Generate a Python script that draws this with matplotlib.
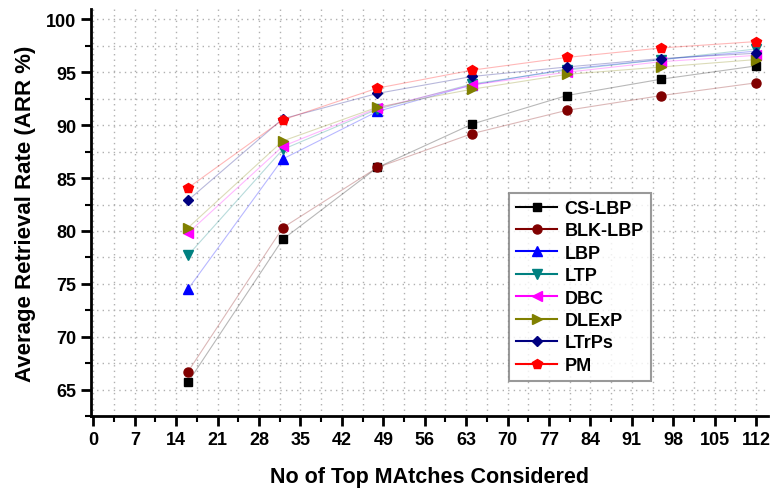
import matplotlib
matplotlib.use("Agg")
import matplotlib.pyplot as plt
from matplotlib.lines import Line2D
from matplotlib.ticker import MultipleLocator

plt.rcParams['font.family'] = ['Liberation Sans', 'DejaVu Sans']
plt.rcParams['font.weight'] = 'bold'

x = [16, 32, 48, 64, 80, 96, 112]
names = ['CS-LBP', 'BLK-LBP', 'LBP', 'LTP', 'DBC', 'DLExP', 'LTrPs', 'PM']
cs_lbp = [65.7, 79.2, 86.0, 90.1, 92.8, 94.35, 95.6]
blk_lbp = [66.7, 80.3, 86.0, 89.2, 91.4, 92.8, 94.0]
lbp = [74.5, 86.8, 91.3, 93.8, 95.3, 96.2, 97.0]
ltp = [77.7, 87.7, 91.5, 93.9, 95.2, 96.2, 97.2]
dbc = [79.8, 88.0, 91.6, 93.8, 95.0, 96.0, 96.6]
dlexp = [80.3, 88.5, 91.7, 93.4, 94.8, 95.5, 96.2]
ltrps = [82.9, 90.6, 93.0, 94.6, 95.5, 96.3, 96.8]
pm = [84.07, 90.5, 93.5, 95.2, 96.4, 97.3, 97.9]
series = [cs_lbp, blk_lbp, lbp, ltp, dbc, dlexp, ltrps, pm]
colors = ['#000000', '#800000', '#0000ff', '#008080', '#ff00ff', '#808000', '#000080', '#ff0000']
markers = ['s', 'o', '^', 'v', '<', '>', 'D', 'p']
msizes = [6, 6.5, 7, 7, 7, 7, 5.5, 7]
xticks = list(range(0, 113, 7))
yticks = [65, 70, 75, 80, 85, 90, 95, 100]

fig = plt.figure(figsize=(7.71, 4.89), dpi=100)
ax = fig.add_axes([0.118, 0.147, 0.878, 0.833])

handles = []
for s, c, m, ms, n in zip(series, colors, markers, msizes, names):
    ax.plot(x, s, color=c, lw=0.8, alpha=0.28, zorder=2)
    ax.plot(x, s, linestyle='none', marker=m, markersize=ms, color=c, zorder=3)
    handles.append(Line2D([], [], color=c, lw=1.5, marker=m, markersize=ms, label=n))

ax.set_xlim(-0.4, 114)
ax.set_ylim(62.5, 101)
ax.set_xticks(xticks)
ax.set_yticks(yticks)
ax.xaxis.set_minor_locator(MultipleLocator(3.5))
ax.yaxis.set_minor_locator(MultipleLocator(2.5))
ax.grid(True, which='both', color='#b0b0b0', linestyle=(0, (1, 3)), linewidth=1.0)
ax.set_axisbelow(True)
for sp in ['top', 'right']:
    ax.spines[sp].set_visible(False)
for sp in ['left', 'bottom']:
    ax.spines[sp].set_linewidth(2)
ax.tick_params(which='major', direction='out', length=7, width=2, labelsize=13)
ax.tick_params(which='minor', direction='out', length=4, width=1.5)
for lab in ax.get_xticklabels() + ax.get_yticklabels():
    lab.set_fontweight('bold')

ax.set_xlabel('No of Top MAtches Considered', fontsize=15.5, fontweight='bold', labelpad=13)
ax.set_ylabel('Average Retrieval Rate (ARR %)', fontsize=16, fontweight='bold', labelpad=7)

leg = ax.legend(handles=handles, loc='lower left', bbox_to_anchor=(0.617, 0.086), fontsize=13,
                frameon=True, fancybox=False, edgecolor='#808080', handlelength=2.3,
                borderpad=0.4, labelspacing=0.3, handletextpad=0.4, borderaxespad=0)
leg.get_frame().set_linewidth(1.5)
for t in leg.get_texts():
    t.set_fontweight('bold')

fig.savefig('out.png', dpi=100)
